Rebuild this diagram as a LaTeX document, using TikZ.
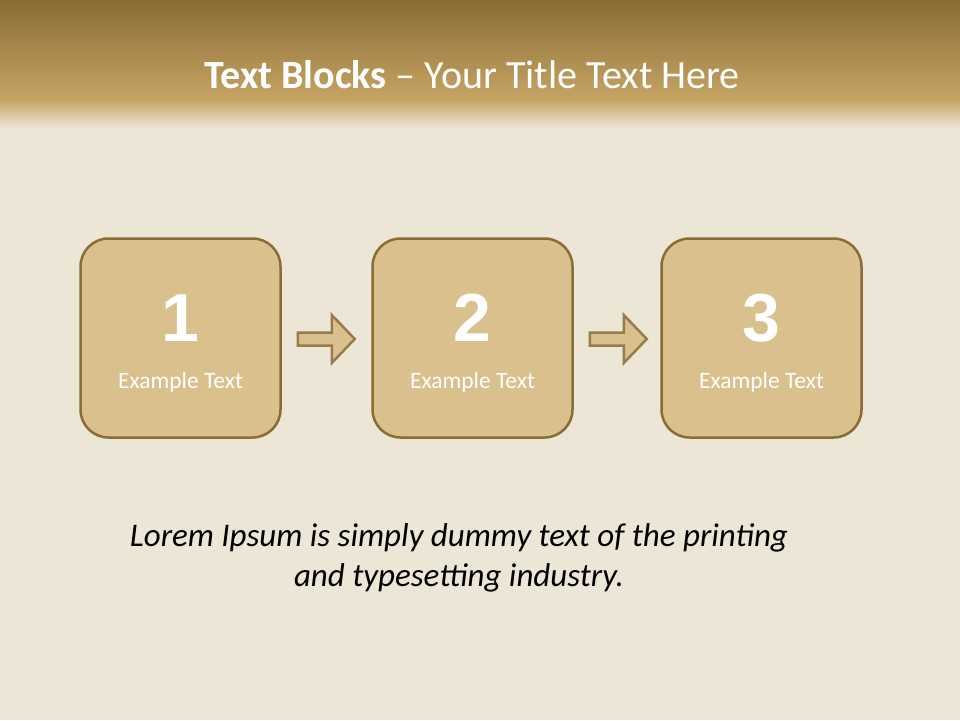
\documentclass[tikz,border=0pt]{standalone}
\usepackage{fontspec}
\setmainfont{Carlito}
\newfontfamily\numfont{Liberation Sans}
\definecolor{bgc}{RGB}{236,230,215}
\definecolor{hdtop}{RGB}{138,108,52}
\definecolor{hdbot}{RGB}{198,164,100}
\definecolor{boxfill}{RGB}{217,192,141}
\definecolor{boxline}{RGB}{139,108,52}
\definecolor{arrline}{RGB}{150,124,74}
\tikzset{
  stepbox/.style={draw=boxline, line width=2.5pt, fill=boxfill, rounded corners=28pt,
    minimum width=200pt, minimum height=199pt, inner sep=0pt},
  numtxt/.style={text=white, font=\numfont\bfseries\fontsize{68}{68}\selectfont},
  extxt/.style={text=white, font=\fontsize{23.5}{28}\selectfont},
  flowarrow/.style={draw=arrline, line width=2.5pt, fill=boxfill, line join=miter}
}
\begin{document}
\begin{tikzpicture}[x=1pt,y=-1pt]
\useasboundingbox (0,0) rectangle (960,720);
\fill[bgc] (0,0) rectangle (960,720);
\shade[top color=hdtop, bottom color=hdbot] (0,0) rectangle (960,100);
\shade[top color=hdbot, bottom color=bgc] (0,99.5) rectangle (960,128);
\node (title) at (472,75) {\color{white}\fontsize{40}{44}\selectfont\textbf{Text Blocks} -- Your Title Text Here};

\node[stepbox] (b1) at (180.5,338) {};
\node[stepbox] (b2) at (472.5,338) {};
\node[stepbox] (b3) at (761.5,338) {};
\foreach \b/\n in {b1/1,b2/2,b3/3}{
  \node[numtxt] (n\n) at ([yshift=20pt]\b.center) {\n};
  \node[extxt] (e\n) at ([yshift=-44pt]\b.center) {Example Text};
}
% arrows
\coordinate (a1s) at ([xshift=16pt]b1.east);
\coordinate (a2s) at ([xshift=16pt]b2.east);
\foreach \a in {a1s,a2s}{
  \draw[flowarrow] ([yshift=-1pt]\a) ++(0,-6.5) -- ++(34,0) -- ++(0,-17.5) -- ++(23,24) -- ++(-23,24) -- ++(0,-17.5) -- ++(-34,0) -- cycle;
}
\node[align=center, font=\itshape\fontsize{33}{40}\selectfont] (lorem) at (459,558)
  {Lorem Ipsum is simply dummy text of the printing\\and typesetting industry.};
\end{tikzpicture}
\end{document}
